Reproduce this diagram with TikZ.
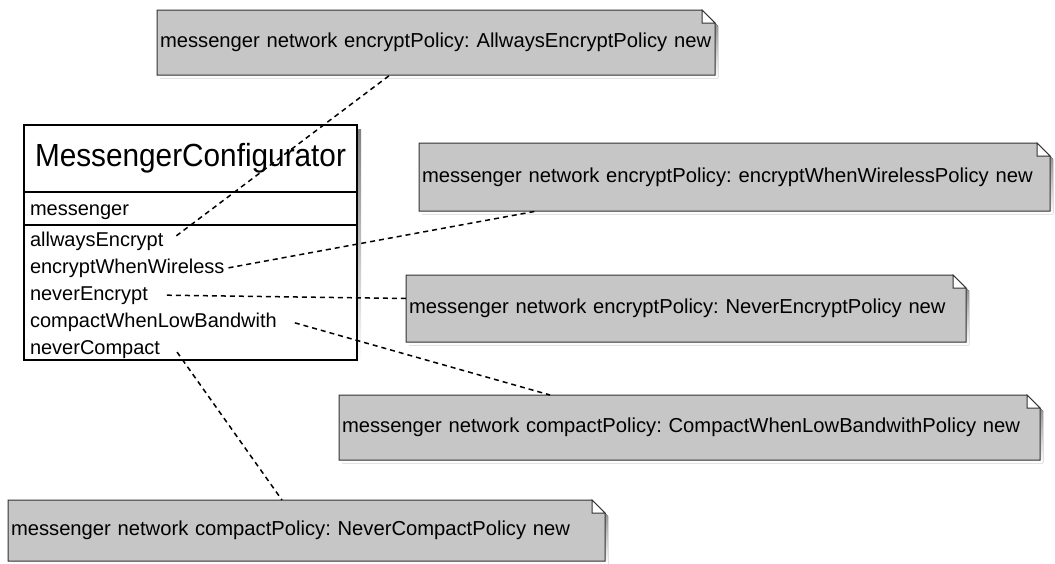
\documentclass[tikz,border=0pt]{standalone}
\usepackage{fontspec}
\setmainfont{Liberation Sans}
\newfontfamily\titlefont[FakeStretch=0.93]{Liberation Sans}
\usetikzlibrary{backgrounds}
\definecolor{notefill}{RGB}{198,198,198}
\definecolor{noteline}{RGB}{50,50,50}
\definecolor{shade}{RGB}{125,125,125}
\frenchspacing
\begin{document}
\begin{tikzpicture}[x=1pt,y=-1pt,
  every node/.style={inner sep=0pt, outer sep=0pt},
  note/.style={rectangle, anchor=north west, inner xsep=3pt, align=left,
    font=\fontsize{20.2}{24}\selectfont},
  classpart/.style={rectangle, draw=black, line width=1.3pt, fill=white,
    minimum width=333pt, anchor=north west},
  member/.style={anchor=base west, font=\fontsize{20}{24}\selectfont},
  link/.style={draw=black, line width=1.5pt, dash pattern=on 5pt off 4pt},
  fold/.store in=\foldsize, fold=13pt,
]
\useasboundingbox (0,0) rectangle (1055,563);

% class box: name, attribute and method compartments
\node[classpart, minimum height=67pt, font=\titlefont\fontsize{32}{36}\selectfont]
  (cls) at (24,125) {MessengerConfigurator};
\node[classpart, minimum height=33pt] (attr) at (24,192) {};
\node[classpart, minimum height=135pt] (ops) at (24,225) {};
\node[member] (m0) at (30,215) {messenger};
\node[member] (r1) at (30,246) {allwaysEncrypt};
\node[member] (r2) at (30,273) {encryptWhenWireless};
\node[member] (r3) at (30,300) {neverEncrypt};
\node[member] (r4) at (30,327) {compactWhenLowBandwith};
\node[member] (r5) at (30,354) {neverCompact};

% notes
\node[note, text width=552pt, minimum height=65pt] (nA) at (157,10)
  {\mbox{messenger network encryptPolicy: AllwaysEncryptPolicy new}};
\node[note, text width=625pt, minimum height=68pt] (nB) at (419,143)
  {\mbox{messenger network encryptPolicy: encryptWhenWirelessPolicy new}};
\node[note, text width=554pt, minimum height=67pt] (nC) at (406,275)
  {\mbox{messenger network encryptPolicy: NeverEncryptPolicy new}};
\node[note, text width=695pt, minimum height=65pt] (nD) at (339,395)
  {\mbox{messenger network compactPolicy: CompactWhenLowBandwithPolicy new}};
\node[note, text width=591pt, minimum height=61pt] (nE) at (8,500)
  {\mbox{messenger network compactPolicy: NeverCompactPolicy new}};

\begin{scope}[on background layer]
  % drop shadow of the class box
  \fill[shade] ([shift={(4pt,-4pt)}]cls.north west) rectangle ([shift={(4pt,-4pt)}]ops.south east);
  % note bodies with folded corner and drop shadow
  \foreach \n in {nA,nB,nC,nD,nE}{
    \fill[shade] ([shift={(3pt,-3pt)}]\n.north west)
      -- ([shift={(3pt-\foldsize,-3pt)}]\n.north east)
      -- ([shift={(3pt,-3pt-\foldsize)}]\n.north east)
      -- ([shift={(3pt,-3pt)}]\n.south east)
      -- ([shift={(3pt,-3pt)}]\n.south west) -- cycle;
    \path[fill=notefill, draw=noteline, line width=1pt, line join=miter]
      (\n.north west) -- ([xshift=-\foldsize]\n.north east)
      -- ([yshift=-\foldsize]\n.north east) -- (\n.south east) -- (\n.south west) -- cycle;
    \path[fill=white, draw=noteline, line width=1pt]
      ([xshift=-\foldsize]\n.north east) -- ([xshift=-\foldsize,yshift=-\foldsize]\n.north east)
      -- ([yshift=-\foldsize]\n.north east) -- cycle;
  }
\end{scope}

% links from methods to their notes
\draw[link] ([xshift=13pt,yshift=5pt]r1.east) -- ([xshift=233pt]nA.south west);
\draw[link] ([xshift=4pt]r2.east) -- ([xshift=118pt]nB.south west);
\draw[link] ([xshift=19pt]r3.east) -- ([yshift=10pt]nC.west);
\draw[link] ([xshift=18pt,yshift=-1pt]r4.east) -- ([xshift=211pt]nD.north west);
\draw[link] ([xshift=17pt,yshift=-3pt]r5.east) -- ([xshift=274pt]nE.north west);
\end{tikzpicture}
\end{document}
